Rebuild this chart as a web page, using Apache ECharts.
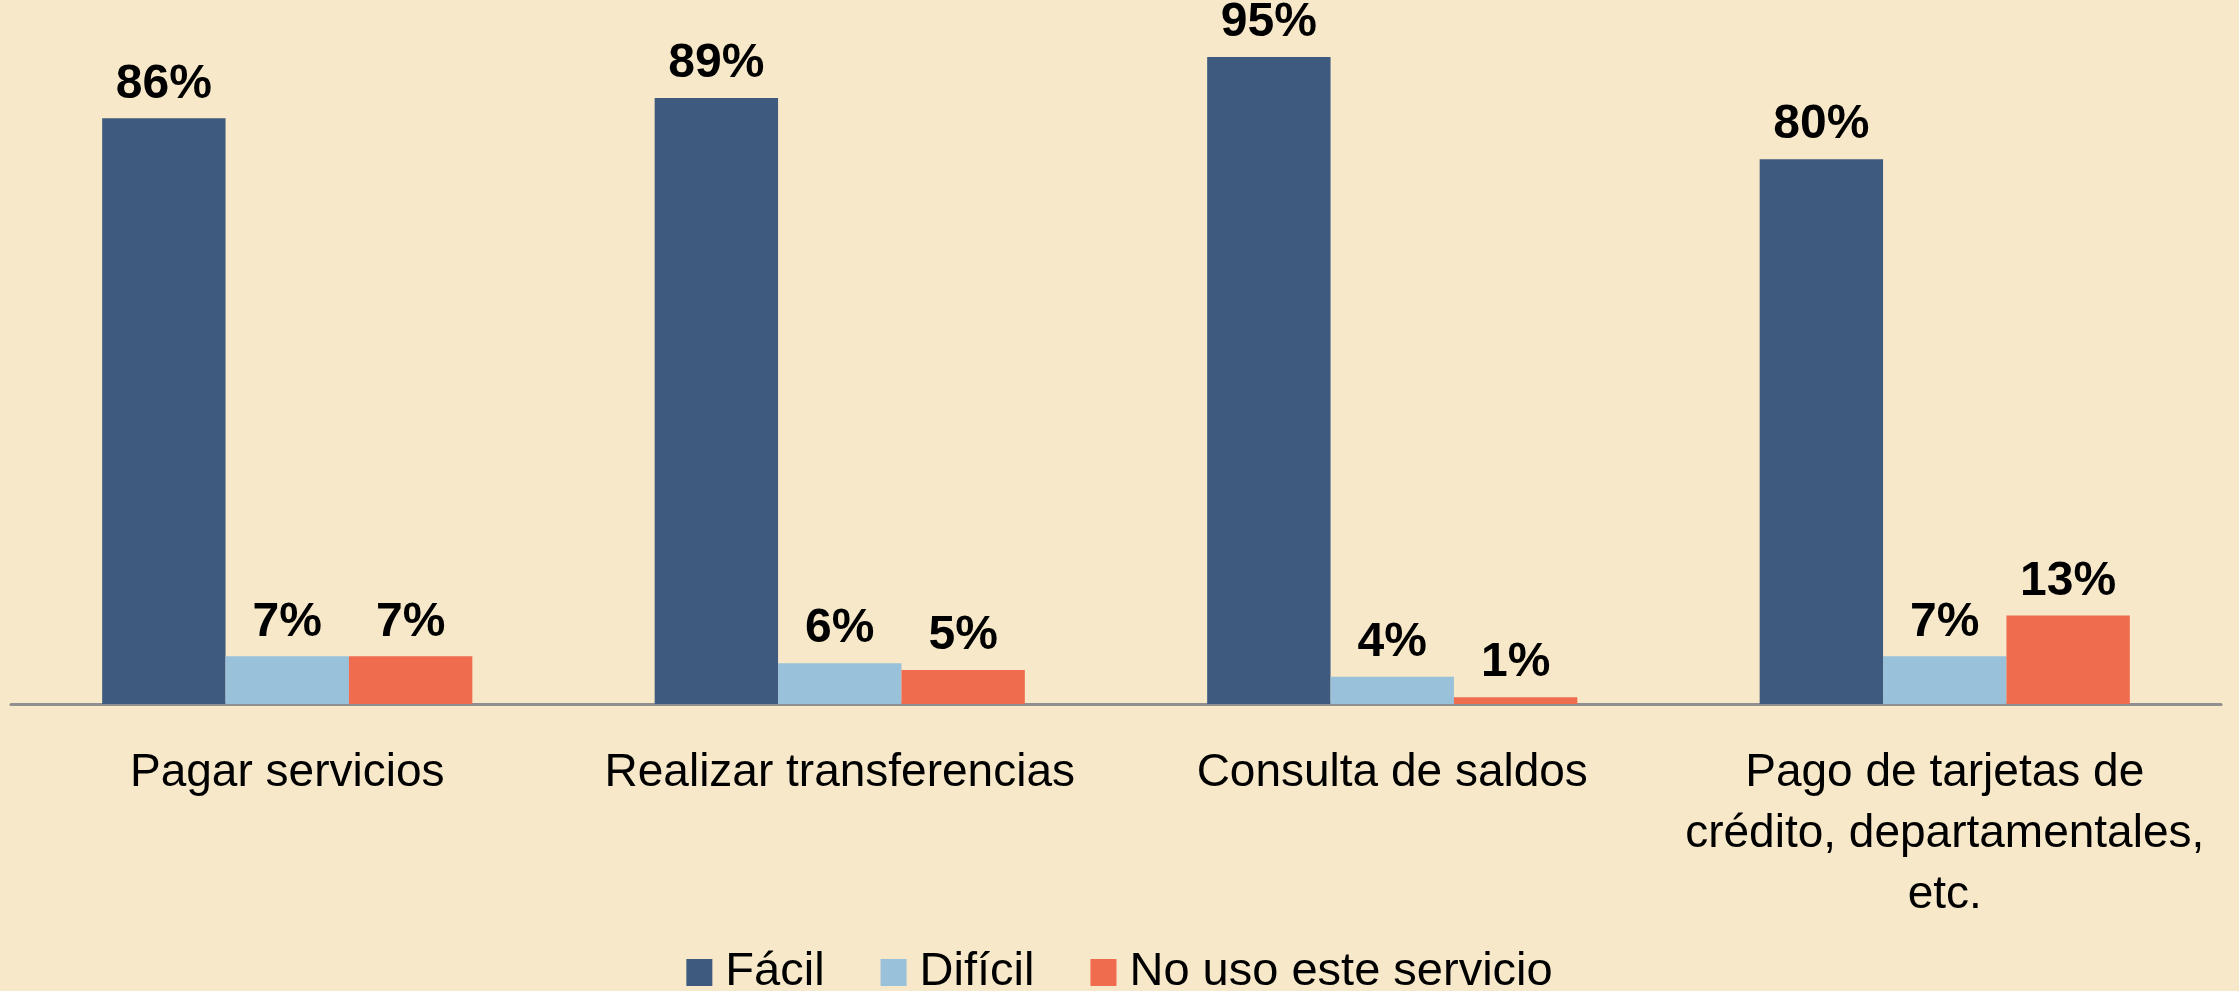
<!DOCTYPE html>
<html>
<head>
<meta charset="utf-8">
<script src="https://cdn.jsdelivr.net/npm/echarts@6/dist/echarts.min.js"></script>
<style>
html, body { margin: 0; padding: 0; background: #f7e8c9; }
#chart { width: 2239px; height: 991px; }
</style>
</head>
<body>
<div id="chart"></div>
<script>
const categories = ['Pagar servicios', 'Realizar transferencias', 'Consulta de saldos', 'Pago de tarjetas de\ncrédito, departamentales,\netc.']
const facil = [86, 89, 95, 80]
const dificil = [7, 6, 4, 7]
const noUso = [7, 5, 1, 13]

const labelStyle = {
    show: true,
    position: 'top',
    distance: 10,
    formatter: '{c}%',
    fontFamily: 'Liberation Sans, Arial, sans-serif',
    fontWeight: 'bold',
    fontSize: 48,
    color: '#000'
}

const myChart = echarts.init(document.getElementById('chart'))
myChart.setOption({
    backgroundColor: '#f7e8c9',
    animation: false,
    grid: { left: 11, right: 18, top: 23, bottom: 287, containLabel: false },
    legend: {
        data: ['Fácil', 'Difícil', 'No uso este servicio'],
        bottom: -10,
        left: 'center',
        itemWidth: 26,
        itemHeight: 27,
        itemGap: 56,
        icon: 'rect',
        textStyle: { fontFamily: 'Liberation Sans, Arial, sans-serif', fontSize: 47, color: '#000', padding: [0, 0, 0, 8] }
    },
    xAxis: {
        type: 'category',
        data: categories,
        axisLine: { lineStyle: { color: '#8f8f8f', width: 3 } },
        axisTick: { show: false },
        axisLabel: {
            interval: 0,
            margin: 39,
            fontFamily: 'Liberation Sans, Arial, sans-serif',
            fontSize: 46,
            lineHeight: 61,
            color: '#000',
            align: 'center',
            verticalAlign: 'top'
        }
    },
    yAxis: {
        type: 'value',
        min: 0,
        max: 100,
        show: false,
        splitLine: { show: false }
    },
    series: [
        { name: 'Fácil', type: 'bar', data: facil, barGap: '0%', barCategoryGap: '33%', itemStyle: { color: '#3e5b7f' }, label: labelStyle },
        { name: 'Difícil', type: 'bar', data: dificil, itemStyle: { color: '#9ac1da' }, label: labelStyle },
        { name: 'No uso este servicio', type: 'bar', data: noUso, itemStyle: { color: '#ef6c4f' }, label: labelStyle }
    ]
})
</script>
</body>
</html>
